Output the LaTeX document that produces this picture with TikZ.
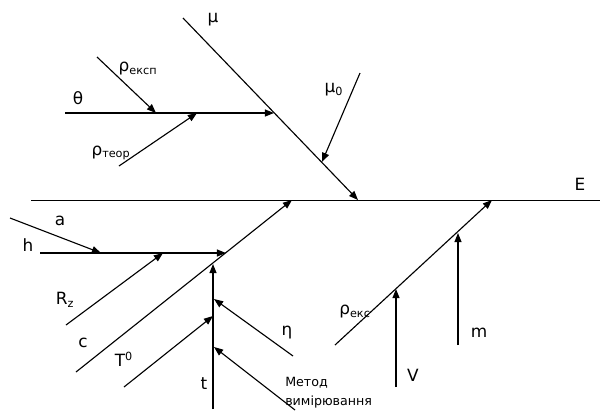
\documentclass[tikz,border=0pt]{standalone}
\usepackage{fontspec}
\setmainfont{DejaVu Sans}
\usetikzlibrary{arrows.meta}

\begin{document}
\begin{tikzpicture}[x=0.025cm, y=-0.025cm, >={Triangle[length=6.5pt,width=5pt]}, bone/.style={->, line width=0.8pt}, lab/.style={font=\fontsize{12}{14}\selectfont, inner sep=0pt}]
	\useasboundingbox (0,0) rectangle (600,410);
	% main spine
	\coordinate (S0) at (31,200);
	\coordinate (S1) at (600,200);
	\draw[line width=0.7pt] (S0) -- (S1);
	\node[lab] (lE) at (580,184) {E};
	% upper bones
	\coordinate (M0) at (183,18);
	\coordinate (M1) at (358,200);
	\coordinate (N0) at (360,73);
	\coordinate (N1) at (322,162);
	\coordinate (Th0) at (65,113);
	\coordinate (Th1) at (274,113);
	\coordinate (Re0) at (97,57);
	\coordinate (Re1) at (156,113);
	\coordinate (Rt0) at (119,166);
	\coordinate (Rt1) at (197,113);
	\draw[bone] (M0) -- (M1);
	\draw[bone] (N0) -- (N1);
	\draw[bone] (Th0) -- (Th1);
	\draw[bone] (Re0) -- (Re1);
	\draw[bone] (Rt0) -- (Rt1);
	\node[lab] (lmu) at (213,20) {μ};
	\node[lab] (lmu0) at (334,90) {μ\textsubscript{0}};
	\node[lab] (ltheta) at (78,98) {θ};
	\node[lab] (lrexp) at (138,69) {ρ\textsubscript{експ}};
	\node[lab] (lrteor) at (111,153) {ρ\textsubscript{теор}};
	% lower left bones
	\coordinate (C0) at (76,372);
	\coordinate (C1) at (292,200);
	\coordinate (H0) at (40,253);
	\coordinate (H1) at (226,253);
	\coordinate (A0) at (10,218);
	\coordinate (A1) at (101,253);
	\coordinate (Rz0) at (66,325);
	\coordinate (Rz1) at (163,253);
	\coordinate (T0) at (213,409);
	\coordinate (T1) at (213,264);
	\coordinate (Tz0) at (124,387);
	\coordinate (Tz1) at (213,316);
	\coordinate (Eta0) at (293,356);
	\coordinate (Eta1) at (214,299);
	\coordinate (Me0) at (295,410);
	\coordinate (Me1) at (214,347);
	\draw[bone] (C0) -- (C1);
	\draw[bone] (H0) -- (H1);
	\draw[bone] (A0) -- (A1);
	\draw[bone] (Rz0) -- (Rz1);
	\draw[bone] (T0) -- (T1);
	\draw[bone] (Tz0) -- (Tz1);
	\draw[bone] (Eta0) -- (Eta1);
	\node[lab] (la) at (60,221) {a};
	\node[lab] (lh) at (28,245) {h};
	\node[lab] (lRz) at (65,300) {R\textsubscript{z}};
	\node[lab] (lc) at (83,343) {c};
	\node[lab] (lT0) at (124,359) {T\textsuperscript{0}};
	\node[lab] (lt) at (204,384) {t};
	\node[lab] (leta) at (287,333) {η};
	\node[lab, font=\fontsize{9}{13}\selectfont, align=left, anchor=base west] (lmet) at (285,405) {Метод\\вимірювання};
	\draw[bone] (Me0) -- (Me1);
	% lower right bones
	\coordinate (Rk0) at (335,345);
	\coordinate (Rk1) at (492,200);
	\coordinate (V0) at (396,387);
	\coordinate (V1) at (396,289);
	\coordinate (Mm0) at (458,345);
	\coordinate (Mm1) at (458,233);
	\draw[bone] (Rk0) -- (Rk1);
	\draw[bone] (V0) -- (V1);
	\draw[bone] (Mm0) -- (Mm1);
	\node[lab] (lrek) at (355,312) {ρ\textsubscript{екс}};
	\node[lab] (lV) at (413,375) {V};
	\node[lab] (lm) at (479,333) {m};
\end{tikzpicture}
\end{document}
